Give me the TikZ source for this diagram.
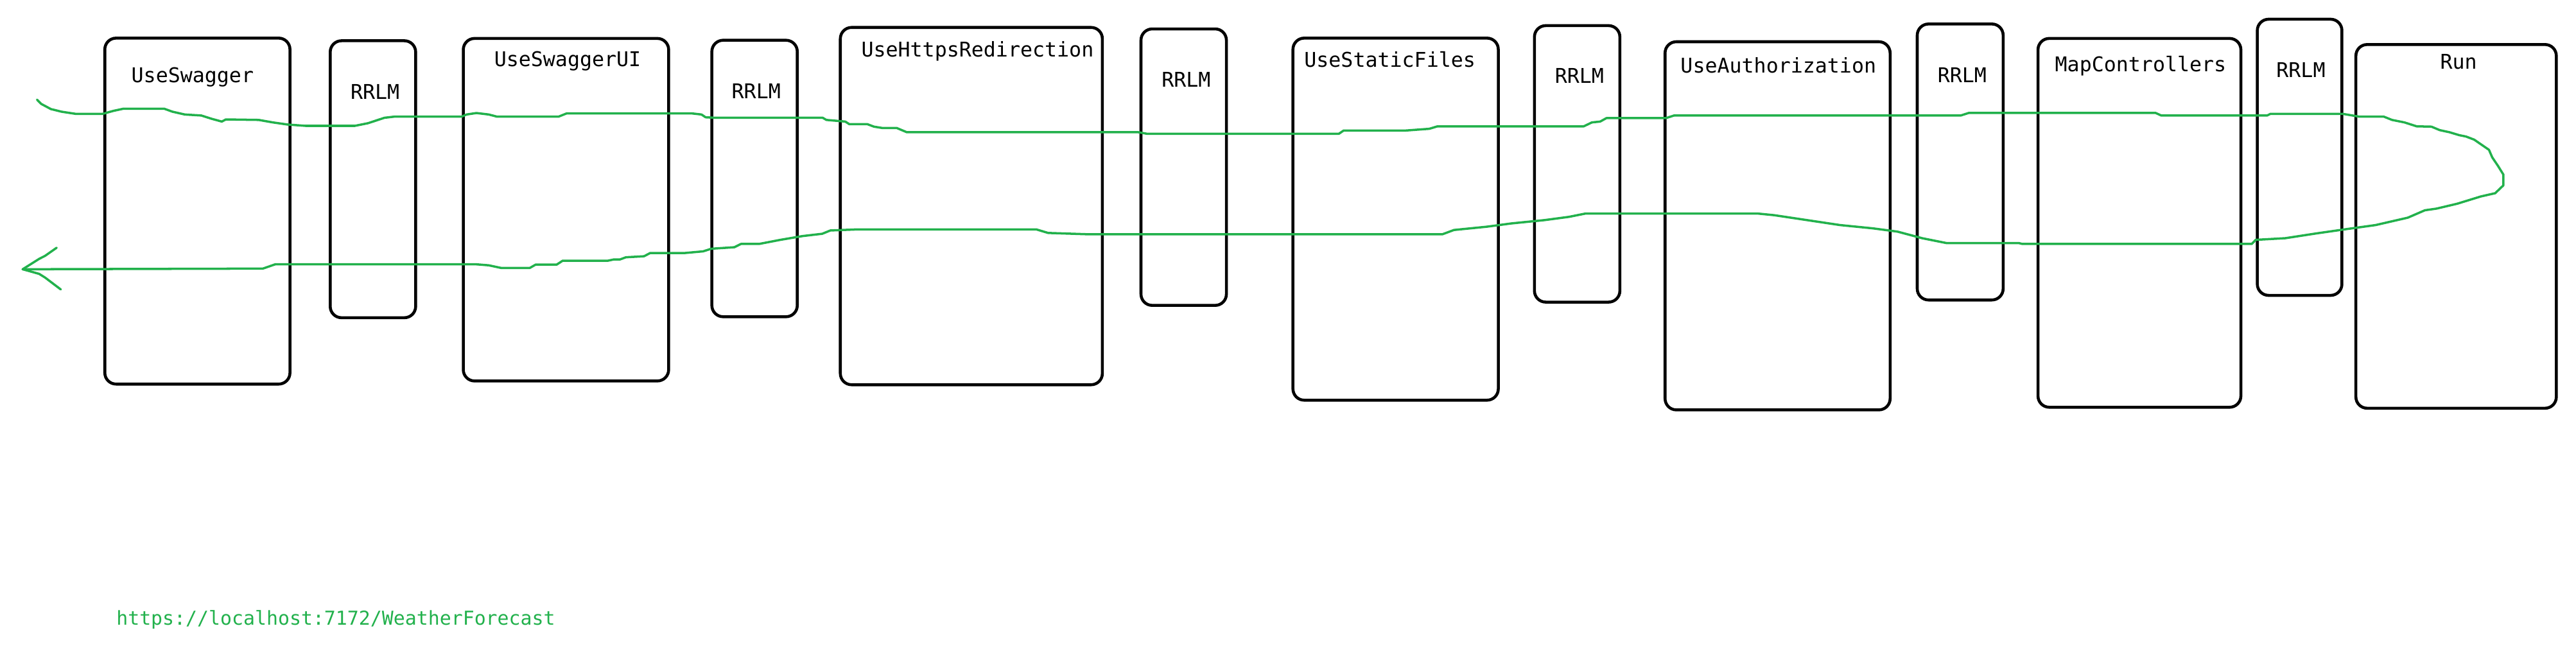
\documentclass[tikz,border=0pt]{standalone}
\usepackage{fontspec}
\setmonofont{DejaVu Sans Mono}
\usepackage{xcolor}
\usepackage{tikz}
\usetikzlibrary{fit}
\definecolor{paintgreen}{RGB}{34,177,76}

\begin{document}
\begin{tikzpicture}[
  x=0.025587cm, y=-0.025587cm,
  box/.style={draw, line width=1.3pt, rounded corners=5pt, inner sep=0pt},
  lbl/.style={anchor=base, inner sep=0pt, font=\ttfamily\fontsize{9}{11}\selectfont},
  flow/.style={draw=paintgreen, line width=1pt, line join=round, line cap=round}]
  \useasboundingbox (0,0) rectangle (1568,407);
  \node[box, fit={(63.8,23.2) (176.5,233.8)}] (swag) {};
  \node[box, fit={(201,24.8) (253,193.4)}] (rrlmA) {};
  \node[box, fit={(282,23.4) (407,231.9)}] (swagui) {};
  \node[box, fit={(433.3,24.5) (485.3,192.8)}] (rrlmB) {};
  \node[box, fit={(511.5,16.7) (671,234.2)}] (https) {};
  \node[box, fit={(694.5,17.6) (746.5,185.9)}] (rrlmC) {};
  \node[box, fit={(787,23.2) (912,243.6)}] (static) {};
  \node[box, fit={(934,15.6) (986,183.9)}] (rrlmD) {};
  \node[box, fit={(1013.5,25.4) (1150.5,249.5)}] (auth) {};
  \node[box, fit={(1167,14.6) (1219.3,182.6)}] (rrlmE) {};
  \node[box, fit={(1240.5,23.4) (1364,247.9)}] (map) {};
  \node[box, fit={(1374,11.7) (1425.5,179.8)}] (rrlmF) {};
  \node[box, fit={(1434,27.1) (1556,248.5)}] (run) {};
  \node[lbl] (swagL) at (117.2,50.2) {UseSwagger};
  \node[lbl] (rrlmAL) at (228.3,60.2) {RRLM};
  \node[lbl] (swaguiL) at (345.5,40.6) {UseSwaggerUI};
  \node[lbl] (rrlmBL) at (460.3,59.9) {RRLM};
  \node[lbl] (httpsL) at (595,34.5) {UseHttpsRedirection};
  \node[lbl] (rrlmCL) at (722,52.8) {RRLM};
  \node[lbl] (staticL) at (846,41) {UseStaticFiles};
  \node[lbl] (rrlmDL) at (961.4,50.8) {RRLM};
  \node[lbl] (authL) at (1082.5,44.3) {UseAuthorization};
  \node[lbl] (rrlmEL) at (1194.3,50.2) {RRLM};
  \node[lbl] (mapL) at (1303,43.6) {MapControllers};
  \node[lbl] (rrlmFL) at (1400.5,46.9) {RRLM};
  \node[lbl] (runL) at (1496.5,42) {Run};
  \node[lbl, text=paintgreen, font=\ttfamily\fontsize{8.5}{10}\selectfont] (url) at (204.4,380.4) {https://localhost:7172/WeatherForecast};
  \coordinate (start) at (22.5,60.6);
  \coordinate (tip) at (13.8,163.9);
  \draw[flow] (start) -- (25,63.2) -- (31,66.4) -- (37.5,68) -- (46,69.3) -- (62.5,69.3) -- (69,67.5) -- (75,66.2)
    -- (100,66.2) -- (105,68) -- (112.5,69.7) -- (122.5,70.3) -- (128.8,72.3) -- (135,74) -- (137.5,72.7)
    -- (157.5,73) -- (166,74.5) -- (175,75.8) -- (186,76.6) -- (216,76.6) -- (224,75) -- (234,71.7) -- (240,71)
    -- (281,71) -- (284,69.7) -- (290,68.8) -- (297.5,69.7) -- (302.5,71) -- (340,71) -- (345,69) -- (420.8,69)
    -- (427,69.7) -- (429.5,71.4) -- (435.8,71.7) -- (500.8,71.7) -- (503,73) -- (514.5,74) -- (517,75.6)
    -- (528,75.6) -- (532,77.1) -- (537,77.9) -- (545.8,77.9) -- (552,80.5) -- (693,80.5) -- (698,81.4)
    -- (815,81.4) -- (817.8,79.5) -- (855,79.5) -- (870,78.4) -- (875,76.9) -- (964,76.9) -- (969,74.5)
    -- (974,74) -- (977.8,71.9) -- (1014,71.9) -- (1019,70.3) -- (1193.5,70.3) -- (1198.5,68.7) -- (1312,68.7)
    -- (1315.5,70.3) -- (1380,70.3) -- (1382,69.3) -- (1426,69.3) -- (1436,71) -- (1451,71) -- (1456,73)
    -- (1463.5,74.5) -- (1471,76.9) -- (1480,77.1) -- (1485,79.2) -- (1491,80.5) -- (1497,82.3) -- (1501,83.1)
    -- (1506,85) -- (1515,91.2) -- (1517,95.8) -- (1520.5,101) -- (1523.8,106.3) -- (1523.8,112.8)
    -- (1518.8,117.6) -- (1510,119.6) -- (1495.7,124) -- (1483,127) -- (1476,128) -- (1465.6,132.5)
    -- (1446,137) -- (1428,139.5) -- (1410.5,142) -- (1391,145) -- (1373,146) -- (1370.6,148.5)
    -- (1231,148.5) -- (1229,148) -- (1185,148) -- (1170,145) -- (1155,141) -- (1140,139) -- (1120,137)
    -- (1100,134) -- (1080,131) -- (1070,130) -- (965,130) -- (955,132) -- (940,134) -- (920,136) -- (905,138)
    -- (885,140) -- (878,142.6) -- (662,142.6) -- (638,141.8) -- (631,139.7) -- (520.4,139.7) -- (505.4,140.3)
    -- (500.5,142.3) -- (488.5,143.7) -- (475,146) -- (462,148.5) -- (451,148.5) -- (447,150.5) -- (433,151.4)
    -- (428,153) -- (417,154) -- (395.8,154) -- (392,156) -- (381,156.6) -- (377.5,157.9) -- (373.8,157.9)
    -- (370,158.7) -- (342.5,158.7) -- (338.8,161.1) -- (326,161.1) -- (322.5,163.1) -- (305,163.1)
    -- (297.5,161.5) -- (290,160.9) -- (167.5,160.9) -- (160,163.5) -- (tip);
  \draw[flow] (34.5,150.8) -- (27.5,155.7) -- (23.8,157.6) -- (tip) -- (23.8,166.7) -- (27.5,169) -- (37,176.2);
\end{tikzpicture}
\end{document}
